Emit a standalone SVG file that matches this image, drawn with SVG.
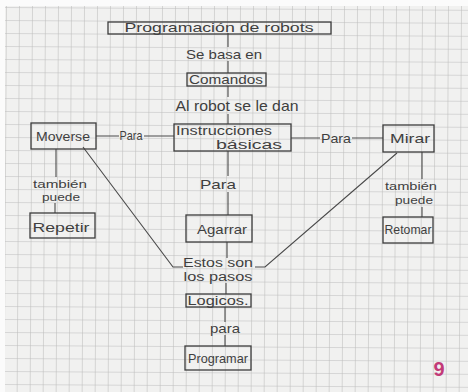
<svg xmlns="http://www.w3.org/2000/svg" width="468" height="392" viewBox="0 0 468 392">
  <defs>
    <!-- squared notebook paper, 13px cells -->
    <pattern id="grid" width="13" height="13" patternUnits="userSpaceOnUse" patternTransform="translate(6 7) rotate(0.35)">
      <rect width="13" height="13" fill="#f1f1f0"/>
      <path d="M0 0H13M0 0V13" stroke="#bcbcbc" stroke-width="1.1" fill="none"/>
    </pattern>
    <style>
      .box { fill: none; stroke: #3c3c3c; stroke-width: 1.3; }
      .ln { fill: none; stroke: #4a4a4a; stroke-width: 1.1; }
      text { font-family: "Liberation Sans", "DejaVu Sans", sans-serif; fill: #3f3f3f; text-anchor: middle; font-size: 13px; }
      .big { font-size: 15px; }
      .sm { font-size: 11px; }
      .mid { font-size: 12px; }
      .mark { fill: #c23a78; font-size: 20px; font-weight: bold; }
    </style>
  </defs>

  <!-- paper -->
  <rect width="468" height="392" fill="#fbfbfb"/>
  <rect x="5" y="6" width="463" height="386" fill="url(#grid)"/>

  <!-- connectors -->
  <g id="connectors">
    <!-- central spine -->
    <path class="ln" d="M228 33V47M228 61V73M228 86V97M228 114V124"/>
    <path class="ln" d="M228 151V176M228 192V215M227 242V258M226 283V294M225 307V322M225 335V346"/>
    <!-- Moverse — Para — Instrucciones -->
    <path class="ln" d="M96 136H119M144 136H174"/>
    <!-- Instrucciones — Para — Mirar -->
    <path class="ln" d="M291 138H320M352 138H383"/>
    <!-- Moverse down to Repetir -->
    <path class="ln" d="M56 149V177M55 203V213"/>
    <!-- Mirar down to Retomar -->
    <path class="ln" d="M422 152V179M422 207V217"/>
    <!-- diagonals into "Estos son los pasos" -->
    <path class="ln" d="M83 147L173 267H183"/>
    <path class="ln" d="M397 153L265 267H255"/>
  </g>

  <g id="title">
    <rect class="box" x="108" y="22" width="223" height="12"/>
    <text x="219" y="32" textLength="189" lengthAdjust="spacingAndGlyphs">Programación de robots</text>
  </g>

  <g id="lbl-se-basa">
    <text x="224" y="59" textLength="76" lengthAdjust="spacingAndGlyphs">Se basa en</text>
  </g>

  <g id="comandos">
    <rect class="box" x="187" y="73" width="79" height="13"/>
    <text x="226" y="84" textLength="74" lengthAdjust="spacingAndGlyphs">Comandos</text>
  </g>

  <g id="lbl-al-robot">
    <text class="big" x="237" y="111" textLength="123" lengthAdjust="spacingAndGlyphs">Al robot se le dan</text>
  </g>

  <g id="instrucciones">
    <rect class="box" x="174" y="124" width="117" height="27"/>
    <text class="mid" x="224" y="135" textLength="96" lengthAdjust="spacingAndGlyphs">Instrucciones</text>
    <text class="mid" x="249" y="149" textLength="66" lengthAdjust="spacingAndGlyphs">básicas</text>
  </g>

  <g id="moverse">
    <rect class="box" x="31" y="123" width="65" height="26"/>
    <text x="63" y="141" textLength="54" lengthAdjust="spacingAndGlyphs">Moverse</text>
  </g>

  <g id="lbl-para-izq">
    <text x="131" y="140" textLength="23" lengthAdjust="spacingAndGlyphs">Para</text>
  </g>

  <g id="lbl-para-der">
    <text x="336" y="143" textLength="30" lengthAdjust="spacingAndGlyphs">Para</text>
  </g>

  <g id="mirar">
    <rect class="box" x="383" y="125" width="51" height="27"/>
    <text x="410" y="143" textLength="40" lengthAdjust="spacingAndGlyphs">Mirar</text>
  </g>

  <g id="lbl-para-centro">
    <text x="218" y="189" textLength="36" lengthAdjust="spacingAndGlyphs">Para</text>
  </g>

  <g id="lbl-tambien-izq">
    <text class="sm" x="60" y="188" textLength="54" lengthAdjust="spacingAndGlyphs">también</text>
    <text class="sm" x="61" y="201" textLength="38" lengthAdjust="spacingAndGlyphs">puede</text>
  </g>

  <g id="lbl-tambien-der">
    <text class="sm" x="411" y="190" textLength="52" lengthAdjust="spacingAndGlyphs">también</text>
    <text class="sm" x="414" y="204" textLength="38" lengthAdjust="spacingAndGlyphs">puede</text>
  </g>

  <g id="repetir">
    <rect class="box" x="30" y="213" width="65" height="25"/>
    <text x="61" y="232" textLength="57" lengthAdjust="spacingAndGlyphs">Repetir</text>
  </g>

  <g id="retomar">
    <rect class="box" x="383" y="217" width="50" height="26"/>
    <text x="408" y="234" textLength="47" lengthAdjust="spacingAndGlyphs">Retomar</text>
  </g>

  <g id="agarrar">
    <rect class="box" x="186" y="215" width="66" height="27"/>
    <text x="222" y="234" textLength="50" lengthAdjust="spacingAndGlyphs">Agarrar</text>
  </g>

  <g id="lbl-estos-son">
    <text class="mid" x="218" y="267" textLength="70" lengthAdjust="spacingAndGlyphs">Estos son</text>
    <text class="mid" x="218" y="281" textLength="69" lengthAdjust="spacingAndGlyphs">los pasos</text>
  </g>

  <g id="logicos">
    <rect class="box" x="186" y="294" width="65" height="13"/>
    <text x="218" y="305" textLength="61" lengthAdjust="spacingAndGlyphs">Logicos.</text>
  </g>

  <g id="lbl-para-abajo">
    <text x="225" y="333" textLength="30" lengthAdjust="spacingAndGlyphs">para</text>
  </g>

  <g id="programar">
    <rect class="box" x="185" y="346" width="66" height="24"/>
    <text x="218" y="363" textLength="60" lengthAdjust="spacingAndGlyphs">Programar</text>
  </g>

  <!-- page number in pink ink -->
  <text class="mark" x="439" y="376">9</text>
</svg>
